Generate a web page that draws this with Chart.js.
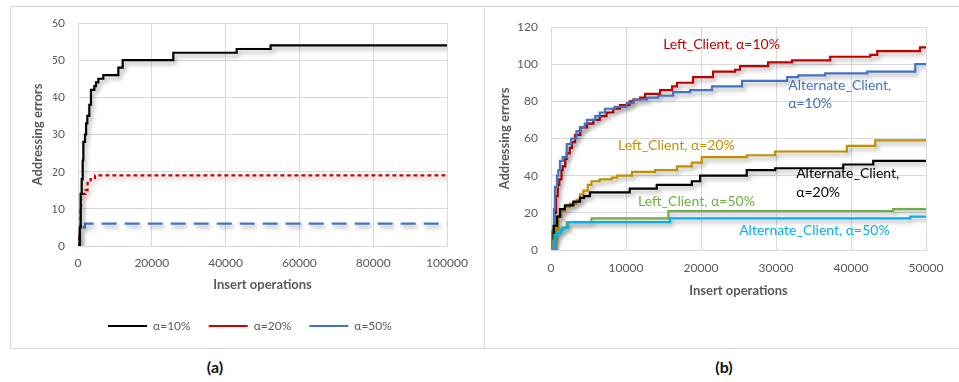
<!DOCTYPE html>
<html>
<head>
<meta charset="utf-8">
<script src="https://cdn.jsdelivr.net/npm/chart.js@4/dist/chart.umd.min.js"></script>
<style>
  html, body { margin: 0; padding: 0; background: #fff; }
  body { width: 959px; height: 382px; position: relative; overflow: hidden; font-family: Lato, "Open Sans", sans-serif; }
  .panel { position: absolute; border: 1px solid #D9D9D9; box-sizing: border-box; }
  canvas { position: absolute; }
  .cap { position: absolute; font: bold 16px Lato, "Open Sans", sans-serif; color: #111; transform: translate(-50%, -50%); }
</style>
</head>
<body>
<div class="panel" style="left:10px; top:6px; width:475px; height:343px;"></div>
<div class="panel" style="left:484px; top:6px; width:476px; height:343px; border-right:none;"></div>
<canvas id="chartA" width="473" height="341" style="left:11px; top:7px;"></canvas>
<canvas id="chartB" width="470" height="341" style="left:485px; top:7px;"></canvas>
<div class="cap" style="left:215px; top:366px;">(a)</div>
<div class="cap" style="left:724px; top:366px;">(b)</div>
<script>
// ---- (a) addressing errors vs insert operations, by alpha ----
const aX10 = [0, 500, 720, 1000, 1270, 1450, 1900, 2200, 2530, 3070, 3520, 4430, 4880, 5510, 6870, 10930, 12110, 25830, 43000, 52200, 100000];
const aY10 = [0, 5, 14, 18, 23, 28, 30, 33, 35, 38, 42, 43, 44, 45, 46, 48, 50, 52, 53, 54, 54];
const aX20 = [0, 250, 500, 700, 850, 2000, 2600, 3400, 4600, 100000];
const aY20 = [0, 2, 5, 10, 14, 15, 17, 18, 19, 19];
const aX50 = [0, 350, 600, 1900, 100000];
const aY50 = [0, 3, 5, 6, 6];
const aLabels = ['α=10%', 'α=20%', 'α=50%'];

// ---- (b) Left_Client vs Alternate_Client ----
const bLeft10X = [0, 250, 450, 670, 900, 1110, 1400, 1560, 1900, 2100, 2500, 2800, 3200, 3900, 4800, 5650, 6500, 7400, 8300, 9200, 10500, 11000, 11900, 12550, 14550, 16150, 16800, 18950, 21600, 24550, 25200, 28950, 32150, 37230, 42570, 43500, 49200, 50000];
const bLeft10Y = [0, 10, 20, 29, 35, 38, 43, 45, 49, 52, 55, 58, 62, 66, 68, 70, 72, 74, 76, 78, 80, 81, 82, 84, 86, 88, 90, 93, 96, 97, 99, 101, 102, 104, 105, 107, 109, 109];
const bAlt10X = [0, 200, 400, 530, 800, 980, 1200, 1560, 2100, 2700, 3400, 4000, 4500, 4800, 5900, 6500, 7200, 8500, 10100, 11000, 12800, 14280, 16280, 18550, 21480, 25480, 31490, 32960, 36560, 42170, 48570, 50000];
const bAlt10Y = [0, 10, 22, 34, 40, 43, 48, 50, 57, 60, 64, 66, 68, 70, 72, 74, 76, 77, 79, 81, 82, 83, 85, 86, 88, 91, 93, 94, 95, 96, 100, 100];
const bLeft20X = [0, 300, 980, 1420, 1870, 2530, 3420, 3870, 4320, 4900, 5400, 6500, 8100, 8800, 10800, 13870, 16800, 18770, 20100, 26100, 29890, 39450, 43230, 50000];
const bLeft20Y = [0, 11, 18, 21, 23, 25, 27, 30, 32, 35, 37, 38, 39, 40, 42, 43, 45, 47, 50, 51, 53, 56, 59, 59];
const bAlt20X = [0, 350, 800, 1200, 1850, 2980, 3870, 4400, 5200, 10500, 14100, 18780, 19880, 26100, 29890, 38970, 42970, 50000];
const bAlt20Y = [0, 13, 18, 22, 24, 26, 28, 29, 31, 33, 35, 37, 40, 43, 44, 46, 48, 48];
const bLeft50X = [0, 300, 800, 1420, 2090, 5400, 15650, 45620, 50000];
const bLeft50Y = [0, 5, 10, 12, 15, 17, 21, 22, 22];
const bAlt50X = [0, 450, 900, 1300, 1700, 2300, 15870, 47900, 50000];
const bAlt50Y = [0, 8, 9, 11, 12, 15, 17, 18, 18];

const FONT = 'Lato, "Open Sans", sans-serif';
const GRID = '#D9D9D9';
const TICK = '#595959';

function pts(xs, ys) { return xs.map((x, i) => ({ x: x, y: ys[i] })); }

// soft drop shadow under the series lines
const lineShadow = {
  id: 'lineShadow',
  beforeDatasetsDraw(chart) {
    const c = chart.ctx;
    c.save();
    c.shadowColor = 'rgba(0,0,0,0.35)';
    c.shadowBlur = 4;
    c.shadowOffsetX = 2;
    c.shadowOffsetY = 3;
  },
  afterDatasetsDraw(chart) { chart.ctx.restore(); }
};

function series(label, xs, ys, color, dash) {
  return {
    label: label,
    data: pts(xs, ys),
    borderColor: color,
    backgroundColor: color,
    borderWidth: 2.2,
    borderDash: dash || [],
    pointRadius: 0,
    stepped: true,
    fill: false
  };
}

function axes(xMax, xStep, yMax, yStep, yWidth, yTitlePad, xHeight, xTitlePad, xTickPad) {
  return {
    x: {
      type: 'linear', min: 0, max: xMax,
      ticks: { stepSize: xStep, color: TICK, font: { family: FONT, size: 12 }, padding: xTickPad, maxRotation: 0,
               callback: v => String(v) },
      grid: { color: GRID, drawTicks: false },
      border: { color: GRID },
      title: { display: true, text: 'Insert operations', color: TICK, font: { family: FONT, size: 13, weight: 'bold' },
               padding: { top: 0, bottom: xTitlePad } },
      afterFit: s => { s.height = xHeight; }
    },
    y: {
      type: 'linear', min: 0, max: yMax,
      // small line height keeps the top tick label from pushing the plot area down
      ticks: { stepSize: yStep, color: TICK, font: { family: FONT, size: 12, lineHeight: 0.4 }, padding: 13 },
      grid: { color: GRID, drawTicks: false },
      border: { color: GRID },
      title: { display: true, text: 'Addressing errors', color: TICK, font: { family: FONT, size: 13, weight: 'bold' },
               padding: { top: yTitlePad, bottom: 0 } },
      afterFit: s => { s.width = yWidth; }
    }
  };
}

new Chart(document.getElementById('chartA'), {
  type: 'line',
  data: {
    datasets: [
      series(aLabels[0], aX10, aY10, '#000000'),
      series(aLabels[1], aX20, aY20, '#D00000', [4, 3]),
      series(aLabels[2], aX50, aY50, '#4472C4', [15, 8])
    ]
  },
  options: {
    responsive: false, devicePixelRatio: 1, animation: false,
    layout: { padding: { left: 42, top: 16, right: 37, bottom: 6 } },
    scales: axes(100000, 20000, 60, 10, 25, -22.6, 56, 9, 10),
    plugins: {
      legend: {
        position: 'bottom',
        labels: { usePointStyle: true, pointStyle: 'line', pointStyleWidth: 39, boxWidth: 39, color: TICK,
                  font: { family: FONT, size: 12 }, padding: 18 }
      },
      tooltip: { enabled: false }
    }
  },
  plugins: [lineShadow]
});

// text labels placed next to the curves, in data coordinates
const bNotes = [
  { text: 'Left_Client, α=10%', x: 14950, y: 110.5, color: '#C00000' },
  { text: 'Alternate_Client,', x: 31625, y: 88.5, color: '#4472C4' },
  { text: 'α=10%', x: 31625, y: 79, color: '#4472C4' },
  { text: 'Left_Client, α=20%', x: 8940, y: 56, color: '#BF9000' },
  { text: 'Alternate_Client,', x: 32690, y: 41, color: '#000000' },
  { text: 'α=20%', x: 32690, y: 31.1, color: '#000000' },
  { text: 'Left_Client, α=50%', x: 11610, y: 25.9, color: '#70AD47' },
  { text: 'Alternate_Client, α=50%', x: 25090, y: 10.4, color: '#00B0F0' }
];

const noteLabels = {
  id: 'noteLabels',
  afterDatasetsDraw(chart) {
    const c = chart.ctx, xs = chart.scales.x, ys = chart.scales.y;
    c.save();
    c.font = '14px ' + FONT;
    c.textAlign = 'left';
    c.textBaseline = 'middle';
    bNotes.forEach(n => {
      c.fillStyle = n.color;
      c.fillText(n.text, xs.getPixelForValue(n.x), ys.getPixelForValue(n.y));
    });
    c.restore();
  }
};

new Chart(document.getElementById('chartB'), {
  type: 'line',
  data: {
    datasets: [
      series('Alternate_Client, α=50%', bAlt50X, bAlt50Y, '#00B0F0'),
      series('Left_Client, α=50%', bLeft50X, bLeft50Y, '#70AD47'),
      series('Alternate_Client, α=20%', bAlt20X, bAlt20Y, '#000000'),
      series('Left_Client, α=20%', bLeft20X, bLeft20Y, '#BF9000'),
      series('Alternate_Client, α=10%', bAlt10X, bAlt10Y, '#4472C4'),
      series('Left_Client, α=10%', bLeft10X, bLeft10Y, '#C00000')
    ]
  },
  options: {
    responsive: false, devicePixelRatio: 1, animation: false,
    layout: { padding: { left: 0, top: 20, right: 29, bottom: 38 } },
    scales: axes(50000, 10000, 120, 20, 66, 12, 60, 11, 11),
    plugins: { legend: { display: false }, tooltip: { enabled: false } }
  },
  plugins: [lineShadow, noteLabels]
});
</script>
</body>
</html>
